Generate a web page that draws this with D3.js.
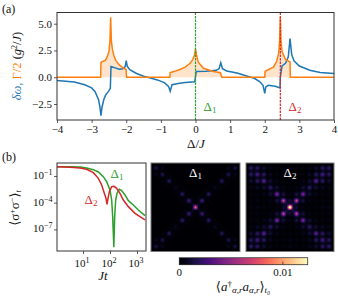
<!DOCTYPE html>
<html><head><meta charset="utf-8">
<script src="https://cdn.jsdelivr.net/npm/d3@7"></script>
<style>
html,body{margin:0;padding:0;background:#fff}
svg{display:block}
text{font-family:"Liberation Serif","DejaVu Serif",serif;fill:#111}
</style></head><body><div id="c"></div>
<script>
// Panel (a): detuning grid for each curve
const gammaX = [-4,-2.74,-2.73,-2.6,-2.55,-2.5,-2.47,-2.45,-2.43,-2.4,-2.35,-2.3,-2.2,-2.1,-2.005,-2,-1.99,-0.74,-0.73,-0.6,-0.45,-0.3,-0.156,-0.08,-0.03,0,0.03,0.08,0.23,0.52,0.72,0.76,2,2.01,2.25,2.34,2.4,2.43,2.45,2.47,2.5,2.6,2.73,2.74,4];
const gammaY = [0,0,1.4,1.6,1.9,2.4,3.4,5.6,3.4,2.6,1.95,1.55,1.15,0.9,0.72,0.35,0,0,0.44,0.55,0.72,0.95,1.3,1.65,2.05,2.65,2.05,1.4,0.84,0.53,0.42,0,0,0.55,0.95,1.45,2.2,3.4,5.6,3.4,2.4,1.65,1.42,0,0];
const deltaX = [-4,-3.5,-3.2,-3,-2.9,-2.8,-2.76,-2.73,-2.7,-2.65,-2.6,-2.5,-2.46,-2.45,-2.44,-2.3,-2.2,-2.1,-2.03,-2,-1.97,-1.9,-1.7,-1.5,-1.3,-1.1,-0.9,-0.78,-0.73,-0.68,-0.5,-0.3,-0.02,0,0.02,0.3,0.6,0.68,0.73,0.78,0.9,1.2,1.5,1.7,1.85,1.95,2,2.03,2.1,2.3,2.44,2.45,2.5,2.6,2.68,2.73,2.78,2.85,3,3.3,3.6,4];
const deltaY = [-0.3,-0.45,-0.7,-1,-1.35,-2.1,-2.8,-3.6,-2.8,-2.1,-1.7,-1.25,-1.03,0,1,0.85,0.75,0.8,1,1.55,1,0.7,0.35,0.1,-0.07,-0.25,-0.5,-0.85,-1.3,-0.7,-0.58,-0.5,-0.42,0.05,0.53,0.55,0.65,0.8,1.35,0.8,0.58,0.4,0.1,-0.1,-0.4,-0.75,-1.5,-0.9,-0.75,-0.85,-1,0,1.05,1.3,1.9,3.6,2.1,1.5,1.05,0.65,0.45,0.35];
const xTicksA = [-4,-3,-2,-1,0,1,2,3,4];
const yTicksA = [-2.5,0,2.5,5];
const resonances = [0,2.45];

// Panel (b): log10 of Jt and of the population
const logJtG = [0.037,0.519,0.889,1.136,1.383,1.568,1.753,1.877,2,2.062,2.099,2.142,2.173,2.21,2.259,2.346,2.432,2.556,2.679,2.864,3.049,3.296];
const logPopG = [0.049,0.049,0.011,-0.101,-0.288,-0.55,-1.075,-1.636,-2.573,-3.696,-5.57,-9,-5.57,-3.696,-2.947,-2.498,-2.648,-3.134,-3.771,-4.258,-4.82,-5.457];
const logJtR = [0.037,0.519,0.889,1.136,1.383,1.568,1.691,1.79,1.852,1.889,1.926,1.975,2.062,2.148,2.247,2.37,2.494,2.679,2.926,3.296];
const logPopR = [0.049,-0.026,-0.101,-0.251,-0.625,-1.262,-2.011,-2.947,-3.509,-4.183,-3.509,-2.76,-2.198,-2.16,-2.385,-2.947,-3.696,-4.445,-5.194,-5.944];
const xTickExpB = [1,2,3];
const yTickExpB = [-1,-4,-7];

// Heat maps: one quadrant, from the centre (index 0) out to the edge, in units of 1e-4
const heatQuadrant1 = [
[90,1,2,0,1,0,1,0,1,0,0,0,1,0],
[1,7,1,4,0,1,0,0,0,0,0,0,0,0],
[2,1,32,1,4,0,1,0,0,0,0,0,0,0],
[0,4,1,4,1,3,0,0,0,0,0,0,0,0],
[1,0,4,1,26,1,3,0,1,0,0,0,0,0],
[0,1,0,3,1,3,1,2,0,0,0,0,0,0],
[1,0,1,0,3,1,8,1,2,0,0,0,0,0],
[0,0,0,0,0,2,1,3,1,2,0,0,0,0],
[1,0,0,0,1,0,2,1,24,1,3,0,1,0],
[0,0,0,0,0,0,0,2,1,3,1,2,0,0],
[0,0,0,0,0,0,0,0,3,1,20,1,8,0],
[0,0,0,0,0,0,0,0,0,2,1,3,1,0],
[1,0,0,0,0,0,0,0,1,0,8,1,18,0],
[0,0,0,0,0,0,0,0,0,0,0,0,0,0]];
const heatQuadrant2 = [
[175,8,12,2,5,1,4,1,5,1,7,1,7,0],
[8,12,6,2,3,1,1,0,1,0,1,0,1,0],
[12,6,75,5,16,2,6,1,4,1,5,1,5,0],
[2,2,5,5,4,2,2,1,1,0,1,0,1,0],
[5,3,16,4,55,4,14,2,7,1,5,1,5,0],
[1,1,2,2,4,4,4,2,2,1,1,0,1,0],
[4,1,6,2,14,4,26,4,14,2,10,1,7,0],
[1,0,1,1,2,2,4,4,4,2,2,1,2,0],
[5,1,4,1,7,2,14,4,44,5,26,3,14,0],
[1,0,1,0,1,1,2,2,5,5,5,3,3,0],
[7,1,5,1,5,1,10,2,26,5,36,5,26,0],
[1,0,1,0,1,0,1,1,3,3,5,5,5,0],
[7,1,5,1,5,1,7,2,14,3,26,5,28,0],
[0,0,0,0,0,0,0,0,0,0,0,0,0,0]];
const heatMax = 0.0124;
const heatUnit = 1e-4;

const BLUE="#1f77b4",ORANGE="#ff7f0e",GREEN="#2ca02c",RED="#d62728",INK="#333";
const svg=d3.select("#c").append("svg").attr("width",338).attr("height",300);

function label(x,y,parts,opt={}){
  const t=svg.append("text").attr("x",x).attr("y",y).attr("font-size",opt.size||11)
    .attr("text-anchor",opt.anchor||"middle");
  if(opt.rotate) t.attr("transform",`rotate(${opt.rotate} ${x} ${y})`);
  let shift=0;
  parts.forEach(p=>{
    const s=p.s||0; const sp=t.append("tspan").text(p.t);
    if(s!==shift){sp.attr("dy",(shift-s));shift=s;}
    if(p.size) sp.attr("font-size",p.size);
    if(p.i) sp.attr("font-style","italic");
    sp.style("fill",p.c||opt.c||"#111");
  });
  return t;
}
function frame(x0,y0,x1,y1,col,w){
  svg.append("rect").attr("x",x0).attr("y",y0).attr("width",x1-x0).attr("height",y1-y0)
    .attr("fill","none").attr("stroke",col).attr("stroke-width",w);
}
function styleAxis(g){
  g.select(".domain").remove();
  g.selectAll("line").attr("stroke",INK).attr("stroke-width",0.8);
  g.selectAll("text").attr("font-size",11).style("fill","#111").style("font-family",'"Liberation Serif",serif');
}
const fmtMinus=v=>String(v).replace("-","\u2212");

// ---- panel (a)
const A={x0:57,x1:334,y0:12.5,y1:120};
const xA=d3.scaleLinear([-4,4],[A.x0,A.x1]);
const yA=d3.scaleLinear([-2.5,5],[104,23.7]);
const gA=svg.append("g");
const gammaPts=gammaX.map((x,i)=>[x,gammaY[i]]);
const deltaPts=deltaX.map((x,i)=>[x,deltaY[i]]);
gA.append("path").datum(gammaPts).attr("fill",ORANGE).attr("fill-opacity",0.22)
  .attr("d",d3.area().x(d=>xA(d[0])).y0(yA(0)).y1(d=>yA(d[1])));
const lineA=d3.line().x(d=>xA(d[0])).y(d=>yA(d[1]));
gA.append("path").datum(deltaPts).attr("fill","none").attr("stroke",BLUE).attr("stroke-width",1.5).attr("d",lineA);
gA.append("path").datum(gammaPts).attr("fill","none").attr("stroke",ORANGE).attr("stroke-width",1.5).attr("d",lineA);
[GREEN,RED].forEach((c,i)=>gA.append("line").attr("x1",xA(resonances[i])).attr("x2",xA(resonances[i]))
  .attr("y1",A.y0).attr("y2",A.y1).attr("stroke",c).attr("stroke-width",1.2).attr("stroke-dasharray","2.5,1"));
frame(A.x0,A.y0,A.x1,A.y1,INK,1);
svg.append("g").attr("transform",`translate(0,${A.y1})`)
  .call(d3.axisBottom(xA).tickValues(xTicksA).tickSize(3).tickPadding(2).tickFormat(fmtMinus)).call(styleAxis);
svg.append("g").attr("transform",`translate(${A.x0},0)`)
  .call(d3.axisLeft(yA).tickValues(yTicksA).tickSize(3).tickPadding(2).tickFormat(v=>fmtMinus(v.toFixed(1)))).call(styleAxis);
label(2,13,[{t:"(a)"}],{anchor:"start",size:12});
label(196,148,[{t:"\u0394/"},{t:"J",i:1}],{size:13});
label(21,66,[{t:"\u03B4\u03C9,",c:BLUE,i:1},{t:" \u0393/2",c:ORANGE},{t:"  ("},{t:"g",i:1},{t:"2",s:4,size:8},{t:"/"},{t:"J",i:1},{t:")"}],{rotate:-90,size:12.5});
label(210,111,[{t:"\u0394",c:GREEN},{t:"1",s:-2,size:9,c:GREEN}],{size:13});
label(295,111,[{t:"\u0394",c:RED},{t:"2",s:-2,size:9,c:RED}],{size:13});

// ---- panel (b)
const B={x0:57,x1:146,y0:163,y1:251};
const xB=d3.scaleLinear([0.037,3.333],[B.x0,B.x1]);
const yB=d3.scaleLinear([0.46,-9.43],[B.y0,B.y1]);
const lineB=d3.line().x(d=>xB(d[0])).y(d=>yB(d[1]));
svg.append("path").datum(logJtG.map((x,i)=>[x,logPopG[i]])).attr("fill","none").attr("stroke",GREEN).attr("stroke-width",1.5).attr("d",lineB);
svg.append("path").datum(logJtR.map((x,i)=>[x,logPopR[i]])).attr("fill","none").attr("stroke",RED).attr("stroke-width",1.5).attr("d",lineB);
frame(B.x0,B.y0,B.x1,B.y1,INK,1);
svg.append("g").attr("transform",`translate(0,${B.y1})`)
  .call(d3.axisBottom(xB).tickValues(xTickExpB).tickSize(3).tickFormat("")).call(styleAxis);
svg.append("g").attr("transform",`translate(${B.x0},0)`)
  .call(d3.axisLeft(yB).tickValues(yTickExpB).tickSize(3).tickFormat("")).call(styleAxis);
xTickExpB.forEach(e=>label(xB(e)-1,267,[{t:"10"},{t:String(e),s:4,size:8}],{size:11}));
yTickExpB.forEach(e=>label(52.5,yB(e)+3,[{t:"10"},{t:fmtMinus(e),s:4,size:8}],{size:11,anchor:"end"}));
label(2,161,[{t:"(b)"}],{anchor:"start",size:12});
label(103,280,[{t:"Jt",i:1}],{size:13});
label(19,208,[{t:"\u27E8\u03C3"},{t:"+",s:4,size:8},{t:"\u03C3",s:0},{t:"\u2212",s:4,size:8},{t:"\u27E9",s:0},{t:"t",s:-2,size:8,i:1}],{rotate:-90,size:13});
label(117,178,[{t:"\u0394",c:GREEN},{t:"1",s:-2,size:9,c:GREEN}],{size:13});
label(91,204,[{t:"\u0394",c:RED},{t:"2",s:-2,size:9,c:RED}],{size:13});

// ---- heat maps
const colour=d3.scaleSequential(d3.interpolateMagma).domain([0,heatMax]).clamp(true);
function heat(q,x0,x1,y0,y1,name){
  const n=27,mid=13;
  const sx=d3.scaleLinear([0,n],[x0,x1]),sy=d3.scaleLinear([0,n],[y0,y1]);
  const val=(i,j)=>{
    const a=Math.abs(i-mid),b=Math.abs(j-mid);
    return a>13||b>13?0:q[a][b]*heatUnit;
  };
  const cells=[];
  for(let py=Math.floor(y0);py<Math.ceil(y1);py++)for(let px=Math.floor(x0);px<Math.ceil(x1);px++){
    const u=sx.invert(px+0.5)-0.5,v=sy.invert(py+0.5)-0.5;
    const i=Math.floor(v),j=Math.floor(u),fv=v-i,fu=u-j;
    const top=d3.interpolateNumber(val(i,j),val(i,j+1))(fu);
    const bot=d3.interpolateNumber(val(i+1,j),val(i+1,j+1))(fu);
    cells.push({px,py,z:d3.interpolateNumber(top,bot)(fv)});
  }
  svg.append("g").attr("shape-rendering","crispEdges").selectAll("rect").data(cells).join("rect")
    .attr("x",d=>d.px).attr("y",d=>d.py).attr("width",1).attr("height",1).attr("fill",d=>colour(d.z));
  frame(x0,y0,x1,y1,"#777",1);
  label((x0+x1)/2,177,[{t:"\u0394",c:"#fff"},{t:name,s:-2,size:9,c:"#fff"}],{size:13});
}
heat(heatQuadrant1,151,240,163,251.5,"1");
heat(heatQuadrant2,246,334,163,251.5,"2");

// ---- colour bar
const cbX=d3.scaleLinear([0,heatMax],[179.3,307.7]);
svg.append("g").attr("shape-rendering","crispEdges").selectAll("rect").data(d3.range(179,308)).join("rect")
  .attr("x",d=>d).attr("y",258).attr("width",1).attr("height",7).attr("fill",d=>colour(cbX.invert(d+0.5)));
frame(179.3,257.7,307.7,264.7,INK,0.8);
svg.append("line").attr("x1",cbX(0.01)).attr("x2",cbX(0.01)).attr("y1",261.5).attr("y2",264.7).attr("stroke",INK).attr("stroke-width",0.8);
label(cbX(0),276,[{t:"0"}],{size:11});
label(cbX(0.01),276,[{t:"0.01"}],{size:11});
label(243,291,[{t:"\u27E8"},{t:"a",i:1},{t:"\u2020",s:4,size:9},{t:"\u03B1,r",s:-2,size:9,i:1},{t:"a",s:0,i:1},{t:"\u03B1,r",s:-2,size:9,i:1},{t:"\u27E9",s:0},{t:"t\u2080",s:-2,size:9,i:1}],{size:13});
</script></body></html>
